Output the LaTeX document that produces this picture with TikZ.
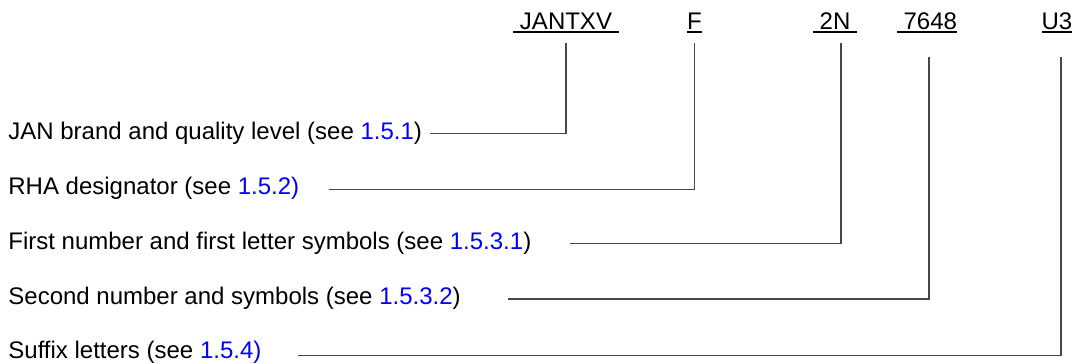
\documentclass[tikz,border=0pt]{standalone}
\usepackage{fontspec}
\setmainfont{Liberation Sans}
\usetikzlibrary{calc}
\def\ulcode#1{\setbox0\hbox{#1}\rlap{\rule[-1.825pt]{\wd0}{0.85pt}}\box0}

\begin{document}
\begin{tikzpicture}[x=0.5pt,y=-0.5pt,font=\fontsize{12pt}{14pt}\selectfont,
		lbl/.style={anchor=west,inner sep=0pt},
		code/.style={anchor=base,inner sep=0pt},
		leader/.style={line width=0.6pt,color=black!72}]
		%%%%% START %%%%%
		\useasboundingbox (0,0) rectangle (1073,364);
		
		% part number, top row
		\node[code] (jantxv) at (566,29.5) {\ulcode{\ JANTXV\ }};
		\node[code] (rha) at (694.5,29.5) {\ulcode{F}};
		\node[code] (num1) at (835,29.5) {\ulcode{\ 2N\ }};
		\node[code] (num2) at (927,29.5) {\ulcode{\ 7648}};
		\node[code] (sfx) at (1057,29.5) {\ulcode{U3}};
		
		\coordinate (jantop) at ([yshift=-4.5pt]jantxv.south);
		\coordinate (rhatop) at ([yshift=-4.5pt]rha.south);
		\coordinate (num1top) at ([xshift=3pt,yshift=-4.5pt]num1.south);
		\coordinate (num2top) at ([xshift=1pt,yshift=-11.5pt]num2.south);
		\coordinate (sfxtop) at ([xshift=2pt,yshift=-11.5pt]sfx.south);
		
		% explanations, left column
		\node[lbl] (lbljan) at (8,133.3) {JAN brand and quality level (see \textcolor{blue}{1.5.1})};
		\node[lbl] (lblrha) at (8,188.5) {RHA designator (see \textcolor{blue}{1.5.2)}};
		\node[lbl] (lblnum1) at (8,243.5) {First number and first letter symbols (see \textcolor{blue}{1.5.3.1})};
		\node[lbl] (lblnum2) at (8,298) {Second number and symbols (see \textcolor{blue}{1.5.3.2})};
		\node[lbl] (lblsfx) at (8,352.5) {Suffix letters (see \textcolor{blue}{1.5.4)}};
		
		\foreach \lbl/\topc/\gap/\dy in {lbljan/jantop/3.75pt/0pt, lblrha/rhatop/14.5pt/-0.5pt, lblnum1/num1top/19pt/0pt, lblnum2/num2top/23.5pt/-0.5pt, lblsfx/sfxtop/18pt/-1.5pt}
			\draw[leader] ([xshift=\gap,yshift=\dy]\lbl.east) -- ([yshift=\dy]\lbl.east -| \topc) -- (\topc);
		
		%%%%% END %%%%%
	\end{tikzpicture}
\end{document}
